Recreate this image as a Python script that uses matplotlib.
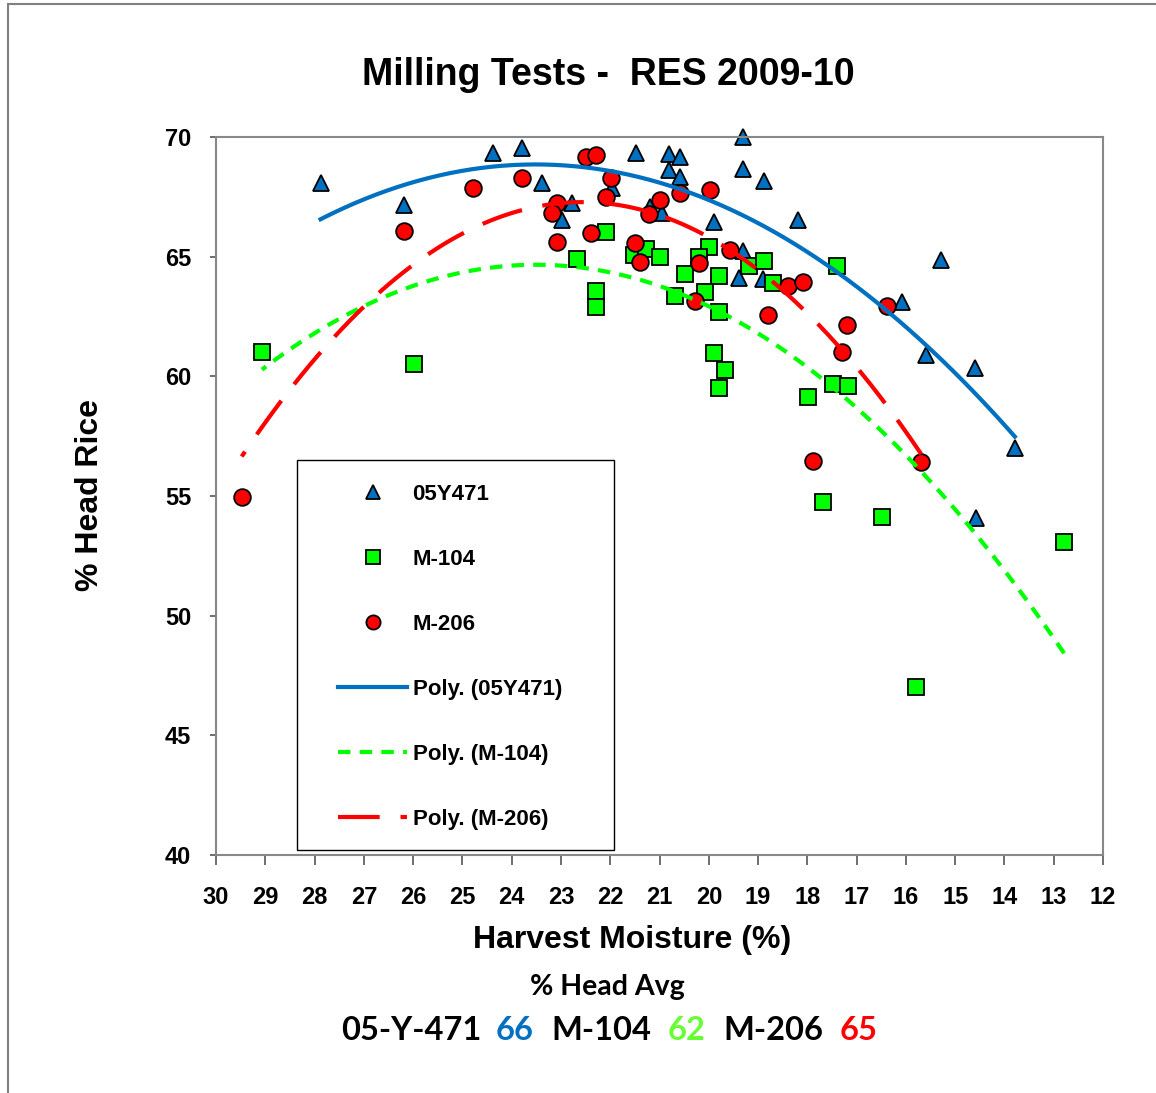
import numpy as np
import matplotlib.pyplot as plt
from matplotlib.patches import Rectangle

# 05Y471 (harvest moisture %, % head rice)
y471_moist = [27.88, 26.19, 24.39, 23.79, 23.38, 22.78, 22.98, 21.48, 21.97, 21.19,
              20.96, 20.80, 20.58, 20.80, 20.58, 19.30, 19.30, 18.89, 19.89, 18.20,
              19.30, 19.38, 18.91, 15.29, 16.09, 15.59, 14.60, 13.79, 14.58]
y471_head = [68.06, 67.16, 69.32, 69.53, 68.07, 67.23, 66.53, 69.32, 67.86, 67.09,
             66.81, 69.28, 69.18, 68.62, 68.34, 70.01, 68.65, 68.16, 66.46, 66.53,
             65.24, 64.10, 64.05, 64.86, 63.12, 60.89, 60.33, 56.99, 54.07]

# M-104
m104_moist = [29.07, 25.98, 22.68, 22.29, 22.29, 22.09, 21.51, 21.27, 21.00, 20.48,
              19.99, 20.19, 19.79, 20.08, 20.69, 19.79, 19.18, 18.89, 18.69, 17.39,
              19.89, 19.68, 19.79, 17.99, 17.49, 17.17, 17.69, 16.49, 12.79, 15.80]
m104_head = [61.03, 60.51, 64.90, 63.58, 62.91, 66.02, 65.07, 65.32, 65.00, 64.27,
             65.39, 64.97, 64.20, 63.51, 63.36, 62.70, 64.61, 64.83, 63.91, 64.62,
             60.96, 60.26, 59.50, 59.12, 59.67, 59.61, 54.76, 54.11, 53.06, 47.03]

# M-206
m206_moist = [29.48, 26.18, 24.79, 23.79, 23.09, 23.19, 23.09, 22.49, 22.29, 22.39,
              22.09, 21.98, 21.49, 21.39, 21.21, 21.00, 20.58, 19.98, 20.19, 19.58,
              20.29, 18.40, 18.09, 18.79, 17.20, 17.29, 16.39, 17.89, 15.69]
m206_head = [54.97, 66.07, 67.85, 68.27, 67.23, 66.81, 65.63, 69.18, 69.25, 65.98,
             67.51, 68.27, 65.58, 64.76, 66.77, 67.37, 67.65, 67.79, 64.72, 65.28,
             63.16, 63.79, 63.95, 62.56, 62.14, 61.03, 62.94, 56.46, 56.41]

avg_names = ['05-Y-471', '66', 'M-104', '62', 'M-206', '65']

BLUE = '#0070C0'
GREEN = '#00FF00'
RED = '#FF0000'


def trend(x, y):
    c = np.polyfit(x, y, 2)
    xs = np.linspace(min(x), max(x), 200)
    return xs, np.polyval(c, xs)


def millingplot():
    fig = plt.figure(figsize=(11.56, 10.93), dpi=100)
    ax = fig.add_axes([0.1869, 0.2178, 0.7673, 0.6569])

    mk = dict(linestyle='none', markersize=12, markeredgecolor='black',
              markeredgewidth=1.3, clip_on=False)
    h1, = ax.plot(y471_moist, y471_head, marker='^', color=BLUE, label='05Y471', **mk)
    h2, = ax.plot(m104_moist, m104_head, marker='s', color=GREEN, label='M-104',
                  **dict(mk, markersize=11.5))
    h3, = ax.plot(m206_moist, m206_head, marker='o', color=RED, label='M-206', **mk)

    xs, ys = trend(y471_moist, y471_head)
    h4, = ax.plot(xs, ys, color=BLUE, lw=3, label='Poly. (05Y471)')
    xs, ys = trend(m104_moist, m104_head)
    h5, = ax.plot(xs, ys, color=GREEN, lw=3, dashes=(3, 2.2), label='Poly. (M-104)')
    xs, ys = trend(m206_moist, m206_head)
    h6, = ax.plot(xs, ys, color=RED, lw=3, dashes=(10, 5), label='Poly. (M-206)')

    ax.set_xlim(30, 12)
    ax.set_ylim(40, 70)
    ax.set_xticks(range(30, 11, -1))
    ax.set_yticks(range(40, 71, 5))
    for s in ax.spines.values():
        s.set_color('#888888')
        s.set_linewidth(1.5)
    ax.tick_params(axis='x', direction='out', length=7, width=1.2, color='#555555',
                   pad=15, labelsize=17)
    ax.tick_params(axis='y', direction='out', length=4, width=1.2, color='#555555',
                   pad=14, labelsize=17)
    for lab in ax.get_xticklabels() + ax.get_yticklabels():
        lab.set_fontweight('bold')

    leg = ax.legend(handles=[h1, h2, h3, h4, h5, h6], loc='upper left',
                    bbox_to_anchor=((338 - 216) / 887, (855 - 484) / 718),
                    frameon=False, borderpad=0, borderaxespad=0,
                    prop={'weight': 'bold', 'size': 16}, markerscale=0.85,
                    handlelength=3.1, handletextpad=0.25, labelspacing=1.98)
    leg.set_zorder(5)
    ax.add_patch(Rectangle(((297 - 216) / 887, (855 - 850) / 718),
                           (614 - 297) / 887, (850 - 460) / 718,
                           transform=ax.transAxes, fill=True, fc='white',
                           ec='black', lw=1, zorder=4))

    fig.text(0.526, 0.931, 'Milling Tests -  RES 2009-10', ha='center', va='center',
             fontsize=27, fontweight='bold')
    fig.text(0.547, 0.140, 'Harvest Moisture (%)', ha='center', va='center',
             fontsize=23, fontweight='bold')
    fig.text(0.078, 0.547, '% Head Rice', ha='center', va='center', rotation=90,
             fontsize=23, fontweight='bold')
    fig.text(0.525, 0.097, '% Head Avg', ha='center', va='center',
             fontsize=20.5, fontweight='bold', family='Lato')

    cols = ['black', BLUE, 'black', '#66FF33', 'black', RED]
    cx = [411, 515, 601, 687, 773, 859]
    for t, c, x in zip(avg_names, cols, cx):
        fig.text(x / 1156, 0.0576, t, ha='center', va='center', color=c,
                 fontsize=23.5, fontweight='bold', family='Lato')

    fig.add_artist(Rectangle((8 / 1156, -0.1), 1.2, 1.1 - 4 / 1093,
                             transform=fig.transFigure, fill=False,
                             ec='#808080', lw=1.5))

    fig.savefig('out.png', dpi=100)


if __name__ == "__main__":
    plt.rcParams['font.family'] = ['Liberation Sans', 'DejaVu Sans']
    millingplot()
